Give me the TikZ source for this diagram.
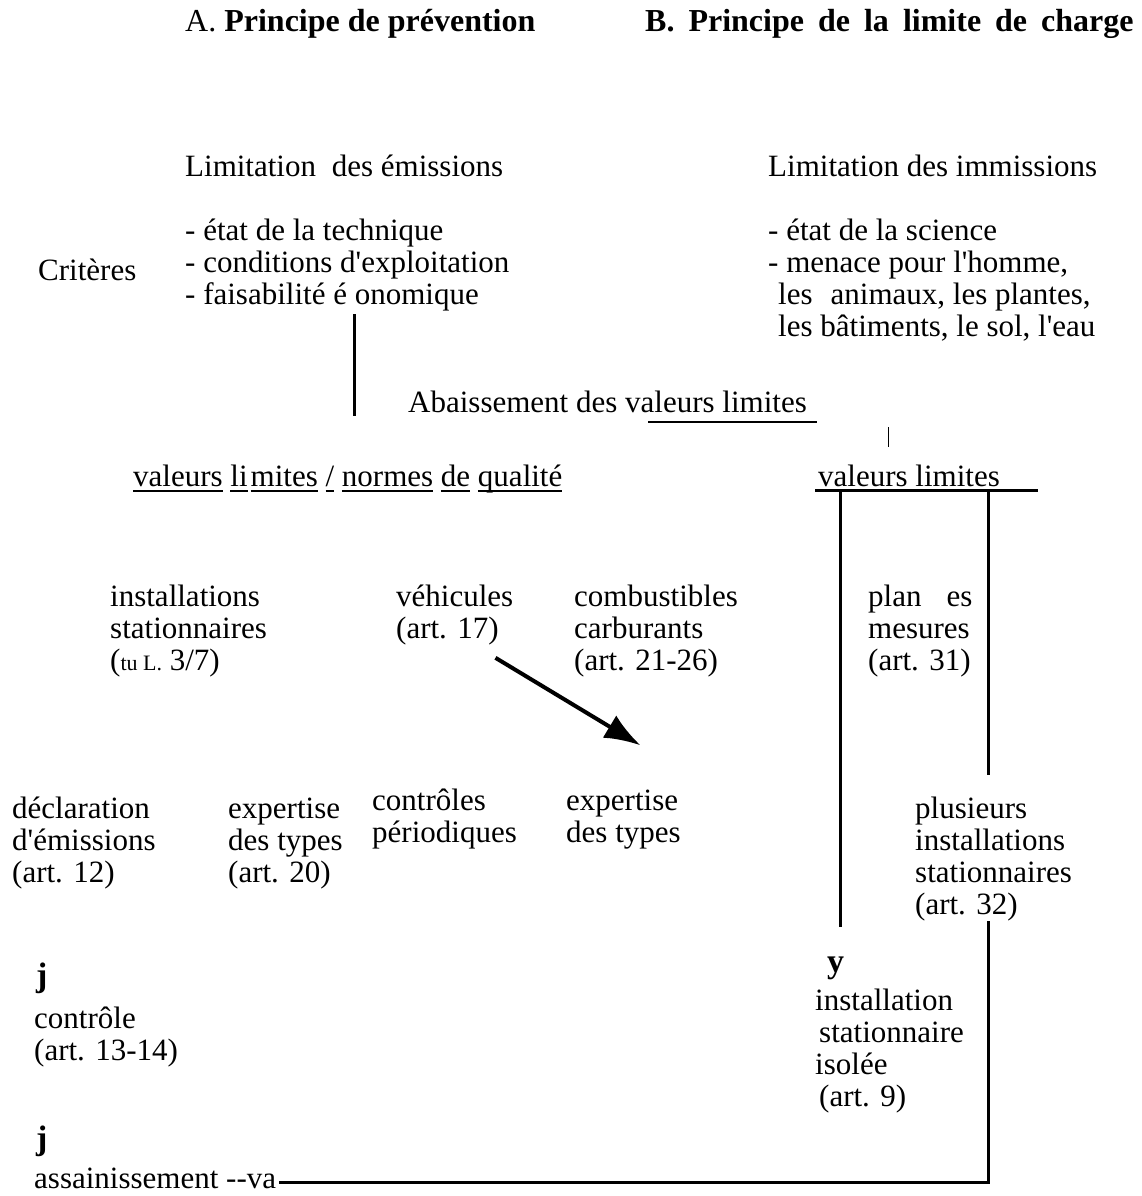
\documentclass[tikz,border=0pt]{standalone}
\usepackage{fontspec}
\newfontfamily\police{Liberation Serif}
\usetikzlibrary{arrows.meta}
% souligner un mot avec un trait epais
\newcommand{\souligne}[1]{\setbox0\hbox{#1}\rlap{\rule[-6pt]{\wd0}{2.2pt}}\box0\relax}

\begin{document}
\begin{tikzpicture}[x=1pt,y=-1pt,
    every node/.style={font=\police\fontsize{31}{32}\selectfont, inner sep=0pt, anchor=base west, align=left},
    titre/.style={font=\police\fontsize{32}{34}\selectfont},
    signe/.style={font=\police\fontsize{34}{34}\selectfont\bfseries},
    trait/.style={line width=3pt},
    fleche/.style={line width=4pt,-{Latex[length=36pt,width=26pt]}}]
    \useasboundingbox (0,0) rectangle (1141,1196);
    % titres
    \node[titre] (titreA) at (185,32) {A. \textbf{Principe de prévention}};
    \node[titre] (titreB) at (645,32) {\spaceskip=14pt\textbf{B. Principe de la limite de charge}};
    % criteres (base = derniere ligne)
    \node (emis) at (185,176) {Limitation\hspace{8pt} des émissions};
    \node (immis) at (768,176) {Limitation des immissions};
    \node (criteres) at (38,280) {Critères};
    \node (critA) at (185,304) {- état de la technique\\- conditions d'exploitation\\- faisabilité é onomique};
    \node (critB) at (768,336) {- état de la science\\- menace pour l'homme,\\\hspace*{10pt}les\hspace{18pt}animaux, les plantes,\\\hspace*{10pt}les bâtiments, le sol, l'eau};
    \node (abaiss) at (408,412) {Abaissement des valeurs limites};
    % valeurs limites
    \node (normes) at (133,486) {\souligne{valeurs} \souligne{li}\kern3pt\souligne{mites} \souligne{/} \souligne{normes} \souligne{de} \souligne{qualité}};
    \node (vlim) at (818,486) {valeurs limites};
    % domaines
    \node (instal) at (110,670) {installations\\stationnaires\\({\fontsize{22}{22}\selectfont tu L.} 3/7)};
    \node (vehic) at (396,638) {véhicules\\(art. 17)};
    \node (combus) at (574,670) {combustibles\\carburants\\(art. 21-26)};
    \node (plan) at (868,670) {plan\hspace{25pt}es\\mesures\\(art. 31)};
    % mesures
    \node (declar) at (12,882) {déclaration\\d'émissions\\(art. 12)};
    \node (expA) at (228,882) {expertise\\des types\\(art. 20)};
    \node (contr) at (372,842) {contrôles\\périodiques};
    \node (expB) at (566,842) {expertise\\des types};
    \node (plusieurs) at (915,914) {plusieurs\\installations\\stationnaires\\(art. 32)};
    \node[signe] (ygr) at (827,972) {y};
    \node (isolee) at (815,1106) {installation\\\hspace*{4pt}stationnaire\\isolée\\\hspace*{4pt}(art. 9)};
    \node[signe] (j1) at (36,986) {j};
    \node (controle) at (34,1060) {contrôle\\(art. 13-14)};
    \node[signe] (j2) at (36,1149) {j};
    \node (assain) at (34,1188) {assainissement --va};
    % traits
    \coordinate (pA) at (354,314);
    \coordinate (qA) at (354,416);
    \coordinate (soulG) at (648,422);
    \coordinate (soulD) at (817,422);
    \coordinate (tickH) at (888,427);
    \coordinate (tickB) at (888,447);
    \coordinate (barG) at (815,490);
    \coordinate (barD) at (1038,490);
    \coordinate (brG) at (840,490);
    \coordinate (finG) at (840,927);
    \coordinate (brD) at (988,490);
    \coordinate (finD) at (988,775);
    \coordinate (retour) at (988,921);
    \draw[trait] (pA) -- (qA);
    \draw[line width=2.5pt] (soulG) -- (soulD);
    \draw[line width=0.8pt] (tickH) -- (tickB);
    \draw[trait] (barG) -- (barD);
    \draw[trait] (brG) -- (finG);
    \draw[trait] (brD) -- (finD);
    \draw[trait] (retour) |- ([shift={(3pt,-5pt)}]assain.east);
    \draw[fleche] ([shift={(-18pt,-13pt)}]vehic.south east) -- ([shift={(17pt,44pt)}]expB.north);
\end{tikzpicture}
\end{document}
